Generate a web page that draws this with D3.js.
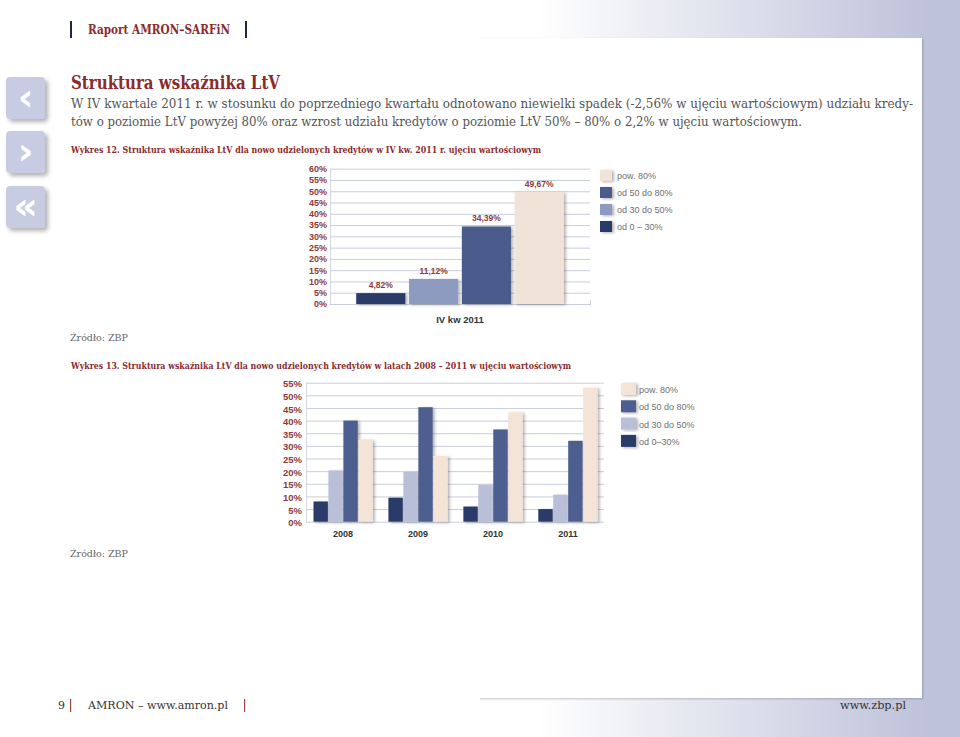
<!DOCTYPE html>
<html><head><meta charset="utf-8">
<script src="https://cdn.jsdelivr.net/npm/d3@7/dist/d3.min.js"></script>
<style>body{margin:0;background:#fff}svg{display:block}</style>
</head><body>
<script>
// ---------- DATA ----------
const seriesNames1 = ["od 0 – 30%", "od 30 do 50%", "od 50 do 80%", "pow. 80%"];
const seriesNames2 = ["od 0–30%", "od 30 do 50%", "od 50 do 80%", "pow. 80%"];
const chart1Categories = ["IV kw 2011"];
const chart1Values = [4.82, 11.12, 34.39, 49.67];
const chart1Ticks = [0,5,10,15,20,25,30,35,40,45,50,55,60];
const chart2Years = ["2008", "2009", "2010", "2011"];
const share0to30 = [8.0, 9.5, 6.0, 5.0];
const share30to50 = [20.3, 19.7, 14.5, 10.7];
const share50to80 = [40.0, 45.3, 36.5, 32.0];
const shareOver80 = [32.5, 26.0, 43.3, 53.0];
const chart2Ticks = [0,5,10,15,20,25,30,35,40,45,50,55];
const bodyLines = [
  "W IV kwartale 2011 r. w stosunku do poprzedniego kwartału odnotowano niewielki spadek (-2,56% w ujęciu wartościowym) udziału kredy-",
  "tów o poziomie LtV powyżej 80% oraz wzrost udziału kredytów o poziomie LtV 50% – 80% o 2,2% w ujęciu wartościowym."
];

// ---------- STYLE ----------
const colors1 = ["#2a3a6a", "#8d9bc0", "#4a5b8b", "#f2e3d8"];
const colors2 = ["#2b3b6b", "#b9bfd9", "#4e5e8f", "#f4e4d8"];
const red = "#8b2b2d";
const axisRed = "#8e3a3a";
const serif = "'DejaVu Serif', 'Liberation Serif', serif";
const sans = "'Liberation Sans', Arial, sans-serif";

const svg = d3.select("body").append("svg").attr("width", 960).attr("height", 737);
const defs = svg.append("defs");
const grad = defs.append("linearGradient").attr("id", "bandGrad").attr("x1", 0).attr("x2", 1).attr("y1", 0).attr("y2", 0);
grad.append("stop").attr("offset", "0.56").attr("stop-color", "#ffffff");
grad.append("stop").attr("offset", "0.97").attr("stop-color", "#bec2da");
const sh = defs.append("filter").attr("id", "barShadow").attr("x", "-20%").attr("y", "-10%").attr("width", "160%").attr("height", "130%");
sh.append("feDropShadow").attr("dx", 2).attr("dy", 1).attr("stdDeviation", 1.4).attr("flood-color", "#000").attr("flood-opacity", 0.3);
const ish = defs.append("filter").attr("id", "iconShadow").attr("x", "-20%").attr("y", "-20%").attr("width", "160%").attr("height", "160%");
ish.append("feDropShadow").attr("dx", 3).attr("dy", 3).attr("stdDeviation", 2).attr("flood-color", "#000").attr("flood-opacity", 0.3);
const psh = defs.append("filter").attr("id", "panelShadow").attr("x", "-5%").attr("y", "-5%").attr("width", "110%").attr("height", "110%");
psh.append("feDropShadow").attr("dx", 1).attr("dy", 1).attr("stdDeviation", 1.2).attr("flood-color", "#556").attr("flood-opacity", 0.35);

// background bands
svg.append("rect").attr("x", 0).attr("y", 0).attr("width", 960).attr("height", 737).attr("fill", "url(#bandGrad)");
svg.append("rect").attr("x", 922).attr("y", 0).attr("width", 38).attr("height", 737).attr("fill", "#bec2da");
svg.append("rect").attr("x", -5).attr("y", 38).attr("width", 927).attr("height", 660).attr("fill", "#fff").attr("filter", "url(#panelShadow)");
svg.append("rect").attr("x", 0).attr("y", 0).attr("width", 480).attr("height", 737).attr("fill", "#fff");
svg.append("rect").attr("x", 0).attr("y", 38).attr("width", 921).attr("height", 660).attr("fill", "#fff");

// header
svg.append("rect").attr("x", 70).attr("y", 21).attr("width", 2).attr("height", 17).attr("fill", "#1f2740");
svg.append("rect").attr("x", 245).attr("y", 21).attr("width", 2).attr("height", 17).attr("fill", "#1f2740");
svg.append("text").attr("x", 88).attr("y", 34).attr("font-family", serif).attr("font-weight", "bold").attr("font-size", 12)
  .attr("fill", red).attr("textLength", 142).attr("lengthAdjust", "spacingAndGlyphs").text("Raport AMRON–SARFiN");

// left icons
const icons = [{y: 77, g: "‹"}, {y: 131, g: "›"}, {y: 186, g: "«"}];
const ig = svg.append("g");
icons.forEach(d => {
  ig.append("rect").attr("x", 6).attr("y", d.y).attr("width", 39).attr("height", 42).attr("rx", 4)
    .attr("fill", "#c8cce2").attr("filter", "url(#iconShadow)");
  ig.append("text").attr("x", 25.5).attr("y", d.y + 33).attr("text-anchor", "middle")
    .attr("font-family", "'DejaVu Sans', sans-serif").attr("font-weight", "bold").attr("font-size", 38)
    .attr("fill", "#fff").text(d.g);
});

// title + body
svg.append("text").attr("x", 71).attr("y", 89).attr("font-family", serif).attr("font-weight", "bold").attr("font-size", 18)
  .attr("fill", red).attr("textLength", 209).attr("lengthAdjust", "spacingAndGlyphs").text("Struktura wskaźnika LtV");
const bodyWidths = [842, 731];
bodyLines.forEach((t, i) => {
  svg.append("text").attr("x", 71).attr("y", 108 + i * 18).attr("font-family", serif).attr("font-size", 13.5)
    .attr("fill", "#555").attr("textLength", bodyWidths[i]).attr("lengthAdjust", "spacingAndGlyphs").text(t);
});
svg.append("text").attr("x", 71).attr("y", 153).attr("font-family", serif).attr("font-weight", "bold").attr("font-size", 9.5)
  .attr("fill", red).attr("textLength", 470).attr("lengthAdjust", "spacingAndGlyphs")
  .text("Wykres 12. Struktura wskaźnika LtV dla nowo udzielonych kredytów w IV kw. 2011 r. ujęciu wartościowym");

// ---------- CHART 1 ----------
const fmt = v => d3.format(".2f")(v).replace(".", ",") + "%";
const y1 = d3.scaleLinear().domain([0, 60]).range([304, 168.7]);
const x1 = d3.scaleBand().domain(chart1Categories).range([330, 590]).paddingInner(0).paddingOuter(0.12);
const x1s = d3.scaleBand().domain(seriesNames1).range([0, x1.bandwidth()]).paddingInner(0.07).paddingOuter(0.02);
const c1 = svg.append("g");
c1.append("g").selectAll("line").data(chart1Ticks).join("line")
  .attr("x1", 330).attr("x2", 590).attr("y1", d => y1(d) + 0.5).attr("y2", d => y1(d) + 0.5)
  .attr("stroke", "#c9cedc").attr("stroke-width", 1);
c1.append("line").attr("x1", 330.5).attr("x2", 330.5).attr("y1", y1(60)).attr("y2", y1(0)).attr("stroke", "#d4d8e2");
c1.append("line").attr("x1", 590.5).attr("x2", 590.5).attr("y1", y1(0) - 4).attr("y2", y1(0) + 1).attr("stroke", "#c9cedc");
const ax1 = d3.axisLeft(y1).tickValues(chart1Ticks).tickFormat(d => d + "%").tickSize(0).tickPadding(3);
c1.append("g").attr("transform", "translate(330,0)").call(ax1).call(g => g.select(".domain").remove())
  .selectAll("text").attr("font-family", sans).attr("font-size", 9).attr("font-weight", "bold").attr("fill", axisRed);
const bars1 = chart1Values.map((v, i) => ({s: seriesNames1[i], v, c: colors1[i], cat: chart1Categories[0]}));
c1.append("g").selectAll("rect").data(bars1).join("rect")
  .attr("x", d => x1(d.cat) + x1s(d.s)).attr("width", x1s.bandwidth())
  .attr("y", d => y1(d.v)).attr("height", d => y1(0) - y1(d.v)).attr("fill", d => d.c).attr("filter", "url(#barShadow)");
c1.append("g").selectAll("text").data(bars1).join("text")
  .attr("x", d => x1(d.cat) + x1s(d.s) + x1s.bandwidth() / 2).attr("y", d => y1(d.v) - 5)
  .attr("text-anchor", "middle").attr("font-family", sans).attr("font-size", 8.5).attr("font-weight", "bold")
  .attr("fill", axisRed).text(d => fmt(d.v));
const xa1 = d3.axisBottom(x1).tickSize(0).tickPadding(12);
c1.append("g").attr("transform", `translate(0,${y1(0)})`).call(xa1).call(g => g.select(".domain").remove())
  .selectAll("text").attr("font-family", sans).attr("font-size", 9.5).attr("font-weight", "bold").attr("fill", "#333");
// legend 1
const leg1 = svg.append("g").attr("transform", "translate(600,170)");
const order = [3, 2, 1, 0];
order.forEach((si, k) => {
  leg1.append("rect").attr("x", 0).attr("y", k * 17).attr("width", 12).attr("height", 11).attr("fill", colors1[si]).attr("filter", "url(#barShadow)");
  leg1.append("text").attr("x", 17).attr("y", k * 17 + 8.5).attr("font-family", sans).attr("font-size", 9).attr("fill", "#6f6f6f").text(seriesNames1[si]);
});
svg.append("text").attr("x", 70).attr("y", 341).attr("font-family", serif).attr("font-size", 9.5).attr("fill", "#666").text("Źródło: ZBP");

// ---------- CHART 2 ----------
svg.append("text").attr("x", 71).attr("y", 369).attr("font-family", serif).attr("font-weight", "bold").attr("font-size", 9.5)
  .attr("fill", red).attr("textLength", 500).attr("lengthAdjust", "spacingAndGlyphs")
  .text("Wykres 13. Struktura wskaźnika LtV dla nowo udzielonych kredytów w latach 2008 – 2011 w ujęciu wartościowym");
const y2 = d3.scaleLinear().domain([0, 55]).range([521.7, 382.7]);
const x2 = d3.scaleBand().domain(chart2Years).range([306, 605]).paddingInner(0.21).paddingOuter(0.1);
const x2s = d3.scaleBand().domain(seriesNames2).range([0, x2.bandwidth()]).paddingInner(0.04);
const c2 = svg.append("g");
c2.append("g").selectAll("line").data(chart2Ticks).join("line")
  .attr("x1", 306).attr("x2", 604).attr("y1", d => y2(d) + 0.5).attr("y2", d => y2(d) + 0.5)
  .attr("stroke", "#c9cedc").attr("stroke-width", 1);
c2.append("line").attr("x1", 306.5).attr("x2", 306.5).attr("y1", y2(55)).attr("y2", y2(0)).attr("stroke", "#d4d8e2");
const ax2 = d3.axisLeft(y2).tickValues(chart2Ticks).tickFormat(d => d + "%").tickSize(0).tickPadding(4);
c2.append("g").attr("transform", "translate(306,1)").call(ax2).call(g => g.select(".domain").remove())
  .selectAll("text").attr("font-family", sans).attr("font-size", 9.5).attr("font-weight", "bold").attr("fill", axisRed);
const seriesData2 = [share0to30, share30to50, share50to80, shareOver80];
const bars2 = [];
chart2Years.forEach((yr, j) => seriesData2.forEach((arr, i) => bars2.push({yr, s: seriesNames2[i], v: arr[j], c: colors2[i]})));
c2.append("g").selectAll("rect").data(bars2).join("rect")
  .attr("x", d => x2(d.yr) + x2s(d.s)).attr("width", x2s.bandwidth())
  .attr("y", d => y2(d.v)).attr("height", d => y2(0) - y2(d.v)).attr("fill", d => d.c).attr("filter", "url(#barShadow)");
const xa2 = d3.axisBottom(x2).tickSize(0).tickPadding(9);
c2.append("g").attr("transform", `translate(0,${y2(0)})`).call(xa2).call(g => g.select(".domain").remove())
  .selectAll("text").attr("font-family", sans).attr("font-size", 9).attr("font-weight", "bold").attr("fill", "#333");
const leg2 = svg.append("g").attr("transform", "translate(621,383)");
order.forEach((si, k) => {
  leg2.append("rect").attr("x", 0).attr("y", k * 17.3).attr("width", 15).attr("height", 12).attr("fill", colors2[si]).attr("filter", "url(#barShadow)");
  leg2.append("text").attr("x", 18).attr("y", k * 17.3 + 10).attr("font-family", sans).attr("font-size", 9).attr("fill", "#6f6f6f").text(seriesNames2[si]);
});
svg.append("text").attr("x", 70).attr("y", 557).attr("font-family", serif).attr("font-size", 9.5).attr("fill", "#666").text("Źródło: ZBP");

// ---------- FOOTER ----------
svg.append("text").attr("x", 58).attr("y", 709).attr("font-family", serif).attr("font-size", 11).attr("fill", "#333").text("9");
svg.append("rect").attr("x", 70).attr("y", 699).attr("width", 1.2).attr("height", 13).attr("fill", "#a04545");
svg.append("text").attr("x", 88).attr("y", 709).attr("font-family", serif).attr("font-size", 11).attr("fill", "#333")
  .attr("textLength", 140).attr("lengthAdjust", "spacingAndGlyphs").text("AMRON – www.amron.pl");
svg.append("rect").attr("x", 244).attr("y", 699).attr("width", 1.2).attr("height", 13).attr("fill", "#a04545");
svg.append("text").attr("x", 906).attr("y", 709).attr("text-anchor", "end").attr("font-family", serif).attr("font-size", 11).attr("fill", "#333")
  .attr("textLength", 66).attr("lengthAdjust", "spacingAndGlyphs").text("www.zbp.pl");
</script>
</body></html>
